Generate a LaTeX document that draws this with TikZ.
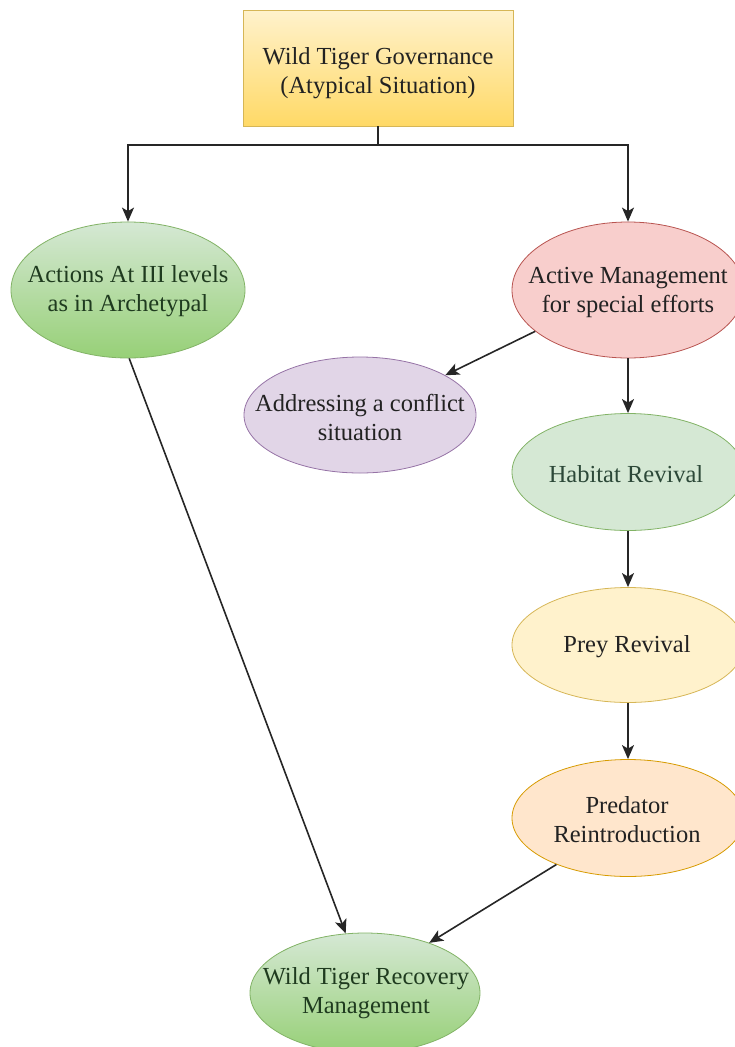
\documentclass[tikz,border=0pt]{standalone}
\usepackage{fontspec}
\setmainfont{Liberation Serif}
\usetikzlibrary{shapes.geometric,arrows.meta}

\definecolor{greenfill}{HTML}{D5E8D4}
\definecolor{greendeep}{HTML}{97D077}
\definecolor{greenedge}{HTML}{82B366}
\definecolor{redfill}{HTML}{F8CECC}
\definecolor{rededge}{HTML}{B85450}
\definecolor{purplefill}{HTML}{E1D5E7}
\definecolor{purpleedge}{HTML}{9673A6}
\definecolor{yellowfill}{HTML}{FFF2CC}
\definecolor{yellowdeep}{HTML}{FFD966}
\definecolor{yellowedge}{HTML}{D6B656}
\definecolor{orangefill}{HTML}{FFE6CC}
\definecolor{orangeedge}{HTML}{D79B00}
\definecolor{greentext}{HTML}{1F3B1F}
\definecolor{sagetext}{HTML}{2C4838}
\definecolor{inktext}{HTML}{222222}
\definecolor{linkline}{HTML}{262626}

\begin{document}
\begin{tikzpicture}[x=1pt,y=-1pt,
  oval/.style={ellipse, draw, line width=0.8pt, inner sep=0pt},
  lbl/.style={align=center, inner sep=0pt, font=\fontsize{24.5}{29}\selectfont, text=inktext},
  plainlink/.style={draw=linkline, line width=1.6pt},
  conn/.style={plainlink, -{Stealth[length=14pt,width=12pt,inset=3.5pt]}}]

\useasboundingbox (0,0) rectangle (735,1047);

% top box
\node[draw=yellowedge, line width=0.8pt, shading=axis, top color=yellowfill,
      bottom color=yellowdeep, minimum width=270pt, minimum height=116pt,
      inner sep=0pt] (gov) at (378,68) {};
\node[lbl] (gov-t) at (378,73) {Wild Tiger Governance\\(Atypical Situation)};

% left branch
\node[oval, draw=greenedge, shading=axis, top color=greenfill, bottom color=greendeep,
      minimum width=234pt, minimum height=136pt] (ar) at (128,290) {};
\node[lbl, text=greentext] (ar-t) at (128,291) {Actions At III levels\\as in Archetypal};

% right branch
\node[oval, draw=rededge, fill=redfill,
      minimum width=232pt, minimum height=136pt] (act) at (628,290) {};
\node[lbl] (act-t) at (628,292) {Active Management\\for special efforts};

\node[oval, draw=purpleedge, fill=purplefill,
      minimum width=232pt, minimum height=116pt] (conf) at (360,415) {};
\node[lbl] (conf-t) at (360,417) {Addressing a conflict\\situation};

\node[oval, draw=greenedge, fill=greenfill,
      minimum width=232pt, minimum height=117pt] (hab) at (628,472) {};
\node[lbl, text=sagetext] (hab-t) at (626,474) {Habitat Revival};

\node[oval, draw=yellowedge, fill=yellowfill,
      minimum width=232pt, minimum height=115pt] (prey) at (628,645) {};
\node[lbl] (prey-t) at (627,647) {Prey Revival};

\node[oval, draw=orangeedge, fill=orangefill,
      minimum width=232pt, minimum height=117pt] (pred) at (628,818) {};
\node[lbl] (pred-t) at (627,820) {Predator\\Reintroduction};

% outcome
\node[oval, draw=greenedge, shading=axis, top color=greenfill, bottom color=greendeep,
      minimum width=230pt, minimum height=120pt] (rec) at (365,993) {};
\node[lbl, text=greentext] (rec-t) at (366,993) {Wild Tiger Recovery\\Management};

% connectors
\coordinate (split) at (378,145);
\draw[plainlink] (gov.south) -- (split);
\draw[conn] (split) -| (ar.north);
\draw[conn] (split) -| (act.north);
\draw[conn] (act.204.8) -- (conf.25);
\draw[conn] (act.south) -- (hab.north);
\draw[conn] (hab.south) -- (prey.north);
\draw[conn] (prey.south) -- (pred.north);
\draw[conn] (ar.271) -- (rec.108);
\draw[conn] (pred.213.5) -- (rec.38);
\end{tikzpicture}
\end{document}
